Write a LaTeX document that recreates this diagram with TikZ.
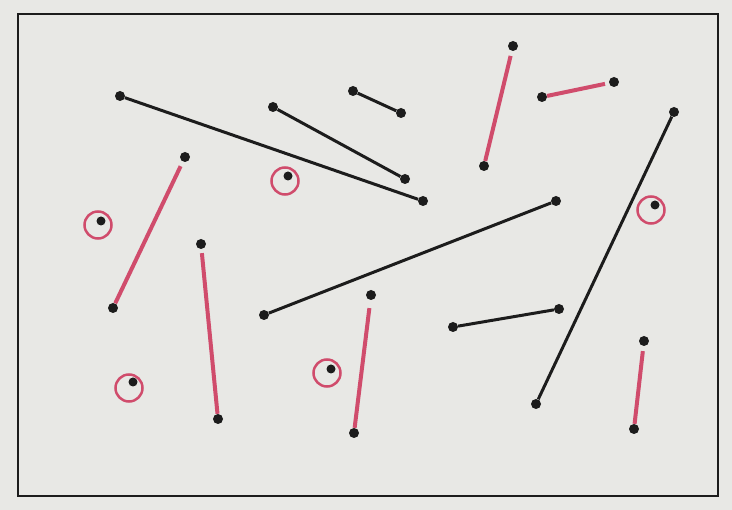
\documentclass[tikz,border=0pt]{standalone}
\definecolor{paper}{RGB}{232,232,229}
\definecolor{pinkline}{RGB}{208,76,108}
\definecolor{ink}{RGB}{28,28,28}
\begin{document}
\begin{tikzpicture}[x=1pt,y=-1pt,
 dot/.style={circle,fill=ink,inner sep=0pt,minimum size=10pt},
 blk/.style={draw=ink,line width=3pt},
 red/.style={draw=pinkline,line width=4pt},
 ring/.style={circle,draw=pinkline,line width=2.5pt,minimum size=27pt,inner sep=0pt},
 frame/.style={draw=ink,line width=2.2pt}]
\fill[paper] (0,0) rectangle (732,510);
\useasboundingbox (0,0) rectangle (732,510);
\draw[frame] (18,14) rectangle (718,496);
% black segments
\node[dot] (b1a) at (120,96) {};
\node[dot] (b1b) at (423,201) {};
\node[dot] (b2a) at (273,107) {};
\node[dot] (b2b) at (405,179) {};
\node[dot] (b3a) at (353,91) {};
\node[dot] (b3b) at (401,113) {};
\node[dot] (b4a) at (556,201) {};
\node[dot] (b4b) at (264,315) {};
\node[dot] (b5a) at (674,112) {};
\node[dot] (b5b) at (536,404) {};
\node[dot] (b6a) at (453,327) {};
\node[dot] (b6b) at (559,309) {};
\draw[blk] (b1a) -- (b1b);
\draw[blk] (b2a) -- (b2b);
\draw[blk] (b3a) -- (b3b);
\draw[blk] (b4a) -- (b4b);
\draw[blk] (b5a) -- (b5b);
\draw[blk] (b6a) -- (b6b);
% red segments
\node[dot] (r1a) at (185,157) {};
\node[dot] (r1b) at (113,308) {};
\node[dot] (r2a) at (201,244) {};
\node[dot] (r2b) at (218,419) {};
\node[dot] (r3a) at (513,46) {};
\node[dot] (r3b) at (484,166) {};
\node[dot] (r4a) at (542,97) {};
\node[dot] (r4b) at (614,82) {};
\node[dot] (r5a) at (371,295) {};
\node[dot] (r5b) at (354,433) {};
\node[dot] (r6a) at (644,341) {};
\node[dot] (r6b) at (634,429) {};
\draw[red, shorten <=5pt] (r1a) -- (r1b);
\draw[red, shorten <=4pt] (r2a) -- (r2b);
\draw[red, shorten <=5pt] (r3a) -- (r3b);
\draw[red, shorten >=4pt] (r4a) -- (r4b);
\draw[red, shorten <=8pt] (r5a) -- (r5b);
\draw[red, shorten <=5pt] (r6a) -- (r6b);
% rings
\node[ring] (c1) at (98,225) {};
\node[dot, minimum size=9pt] (d1) at (101,221) {};
\node[ring] (c2) at (285,181) {};
\node[dot, minimum size=9pt] (d2) at (288,176) {};
\node[ring] (c3) at (651,210) {};
\node[dot, minimum size=9pt] (d3) at (655,205) {};
\node[ring] (c4) at (129,388) {};
\node[dot, minimum size=9pt] (d4) at (133,382) {};
\node[ring] (c5) at (327,373) {};
\node[dot, minimum size=9pt] (d5) at (331,369) {};
\end{tikzpicture}
\end{document}
